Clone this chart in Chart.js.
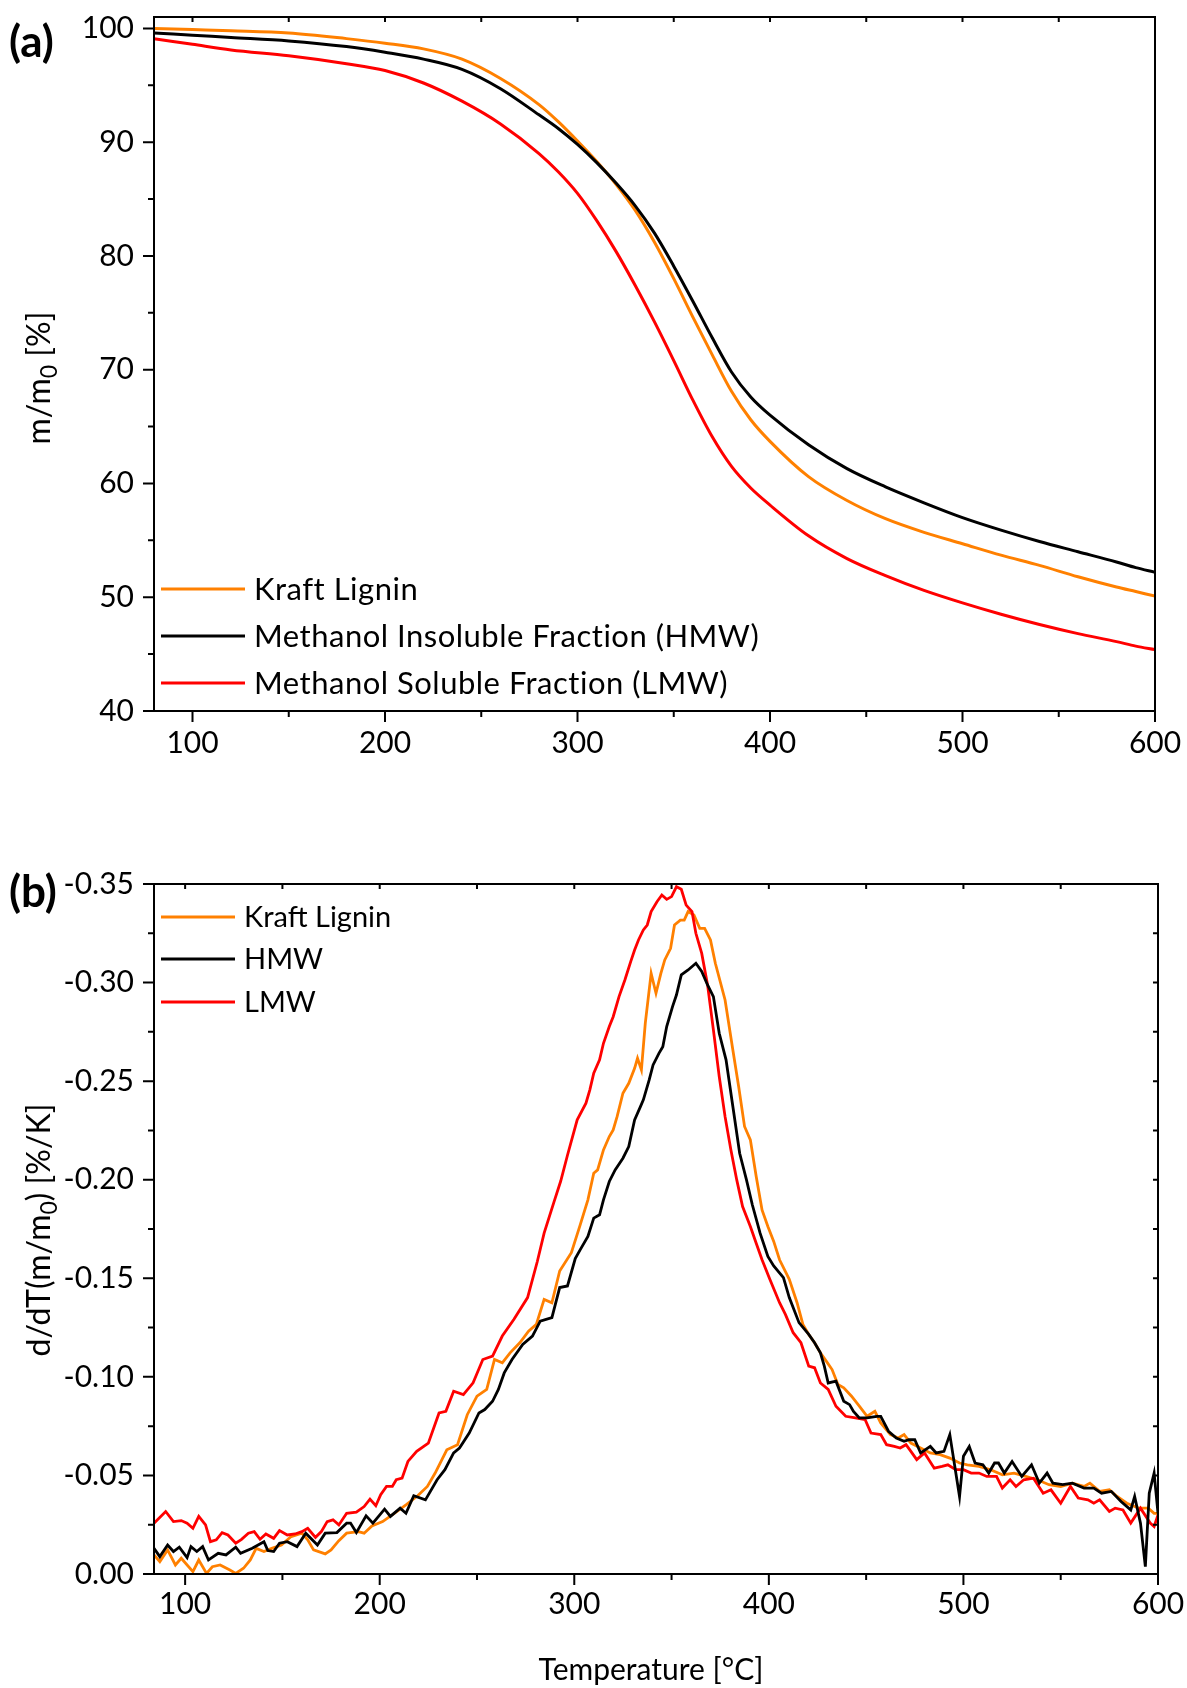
<!DOCTYPE html>
<html>
<head>
  <title>TGA / DTG of lignin fractions</title>
  <meta charset="UTF-8" />
  <script src="https://cdn.jsdelivr.net/npm/chart.js"></script>
  <style>
    body {
      margin: 0;
      background: #fff;
      width: 1187px;
      height: 1688px;
      overflow: hidden;
    }
    canvas {
      display: block;
    }
  </style>
</head>
<body>
  <!-- (a) mass loss -->
  <canvas id="tgaChart" width="1187" height="760"></canvas>
  <!-- (b) derivative -->
  <canvas id="dtgChart" width="1187" height="928"></canvas>

  <script>
// ---- data (a): m/m0 [%] vs temperature [°C]
const tgaTemp = [80, 100, 120, 150, 180, 200, 220, 240, 260, 280, 290, 300, 310, 320, 330, 340, 350, 360, 370, 380, 390, 400, 420, 440, 460, 480, 500, 520, 540, 560, 580, 590, 600];
const tgaKraft = [100.0, 99.9, 99.8, 99.6, 99.1, 98.7, 98.2, 97.3, 95.6, 93.3, 91.8, 90.1, 88.3, 86.3, 84.0, 81.2, 78.0, 74.6, 71.3, 68.1, 65.6, 63.7, 60.6, 58.5, 56.9, 55.7, 54.7, 53.7, 52.8, 51.8, 50.9, 50.5, 50.1];
const tgaHMW = [99.6, 99.4, 99.2, 98.9, 98.4, 97.9, 97.3, 96.4, 94.7, 92.4, 91.2, 89.8, 88.2, 86.4, 84.4, 82.0, 79.1, 76.0, 72.8, 69.8, 67.6, 66.0, 63.4, 61.3, 59.7, 58.3, 57.0, 55.9, 54.9, 54.0, 53.1, 52.6, 52.2];
const tgaLMW = [99.1, 98.6, 98.1, 97.6, 96.9, 96.3, 95.2, 93.6, 91.6, 89.0, 87.4, 85.5, 83.1, 80.4, 77.4, 74.2, 70.8, 67.3, 64.1, 61.5, 59.6, 58.1, 55.4, 53.4, 51.9, 50.6, 49.5, 48.5, 47.6, 46.8, 46.1, 45.7, 45.4];

// ---- data (b): d/dT(m/m0) [%/K]
const kraftTemp = [84, 87, 91, 95, 98, 104, 107, 111, 114, 118, 123, 126, 130, 133.5, 136.5, 140.5, 144.5, 149.5, 154.5, 160, 163, 166, 172, 175, 179, 183, 189, 192, 196, 201.5, 207.5, 213.5, 219.5, 224.5, 228.5, 234.5, 240, 245, 250, 255, 259, 263, 267, 272, 276.5, 280.5, 284.5, 288.5, 292.5, 298.5, 303, 307, 310, 312, 315, 318, 320, 322, 325, 328, 331, 332.5, 334.5, 336.5, 339.5, 342, 344.5, 346.5, 349.5, 351.5, 354.5, 356.5, 358.5, 361.5, 364.5, 367, 370, 372.5, 377.5, 381.5, 384.5, 387.5, 390.5, 393.5, 396.5, 399.5, 402.5, 405.5, 410.5, 414.5, 417.5, 420.5, 423.5, 426.5, 429.5, 432.5, 435.5, 438.5, 442.5, 446.5, 450.5, 454.5, 457.5, 462.5, 466.5, 469.5, 473, 478, 483, 488, 493, 498, 502, 508, 514, 520, 526, 532, 538, 544, 550, 556, 562, 565, 570, 575, 579, 584, 590, 595, 598, 600];
const kraftRate = [-0.0097, -0.0063, -0.0122, -0.0046, -0.008, -0.0012, -0.0071, -0.0003, -0.0037, -0.0046, -0.002, -0.0003, -0.0029, -0.0071, -0.013, -0.0114, -0.013, -0.0147, -0.019, -0.0207, -0.0173, -0.0122, -0.0102, -0.0122, -0.0169, -0.0207, -0.0215, -0.0207, -0.0244, -0.0266, -0.0308, -0.0351, -0.0397, -0.0444, -0.0512, -0.063, -0.0656, -0.0808, -0.0902, -0.0936, -0.1088, -0.1071, -0.1122, -0.1173, -0.1232, -0.1266, -0.1393, -0.1376, -0.1537, -0.163, -0.177, -0.1898, -0.2033, -0.205, -0.2151, -0.2219, -0.2253, -0.232, -0.2439, -0.2489, -0.2565, -0.2616, -0.2557, -0.2794, -0.3047, -0.2946, -0.3047, -0.3115, -0.3174, -0.3292, -0.3317, -0.3317, -0.336, -0.3343, -0.3275, -0.3275, -0.3216, -0.3098, -0.2912, -0.2658, -0.2472, -0.227, -0.2202, -0.2016, -0.1847, -0.1763, -0.1687, -0.1594, -0.1495, -0.1376, -0.1266, -0.1215, -0.1173, -0.1122, -0.108, -0.1037, -0.0961, -0.0944, -0.0902, -0.0851, -0.08, -0.0825, -0.0766, -0.0707, -0.069, -0.0707, -0.0664, -0.0639, -0.0614, -0.0605, -0.0588, -0.0563, -0.0554, -0.0546, -0.0529, -0.0503, -0.0512, -0.0495, -0.0478, -0.0453, -0.0444, -0.0461, -0.0444, -0.0461, -0.0419, -0.0427, -0.0393, -0.0359, -0.0334, -0.0334, -0.0308, -0.0308];

const hmwTemp = [84, 87, 91, 94, 97, 101, 103, 106, 109, 112, 117, 121, 126, 128.5, 134.5, 140.5, 142.5, 145.5, 148.5, 152.5, 157.5, 162, 168, 172, 178, 183, 185, 188, 193, 196.5, 202.5, 205.5, 210.5, 213.5, 217.5, 223.5, 229.5, 233.5, 238, 241, 246, 251, 254, 258, 261, 264, 268, 273.5, 278.5, 282.5, 288.5, 292.5, 296.5, 300.5, 303, 307, 310, 313, 315, 318, 321, 325, 328, 331, 334, 335.5, 338.5, 340.5, 343.5, 345.5, 347.5, 350.5, 352.5, 355, 358.5, 362.5, 365.5, 368.5, 371.5, 374.5, 378, 381.5, 385, 388.5, 391.5, 395.5, 399.5, 402.5, 407.5, 410.5, 415.5, 420.5, 423.5, 426.5, 428.5, 430.5, 434.5, 438.5, 441.5, 443.5, 446.5, 450.5, 455.5, 457.5, 461.5, 465.5, 469.5, 472, 475, 478, 483, 486, 490, 493, 498, 500, 503, 506, 510, 513, 516, 518, 521, 525, 530, 535, 539, 543, 546, 551, 556, 562, 567, 571, 576, 581, 586, 588, 591, 593.5, 595.5, 598, 600];
const hmwRate = [-0.0131, -0.0088, -0.0147, -0.0114, -0.0136, -0.0083, -0.0139, -0.0114, -0.0139, -0.0071, -0.0105, -0.0097, -0.0136, -0.0105, -0.0131, -0.0164, -0.0119, -0.0114, -0.0156, -0.0164, -0.0139, -0.0207, -0.0147, -0.0207, -0.021, -0.0258, -0.0258, -0.021, -0.0295, -0.0258, -0.0329, -0.0292, -0.0334, -0.0308, -0.0397, -0.0376, -0.0478, -0.0529, -0.0614, -0.0639, -0.0715, -0.0817, -0.0834, -0.0876, -0.0936, -0.102, -0.1088, -0.1164, -0.1207, -0.1283, -0.13, -0.1453, -0.1461, -0.16, -0.1644, -0.1712, -0.1805, -0.1822, -0.1898, -0.1991, -0.205, -0.2109, -0.2168, -0.2303, -0.2371, -0.2405, -0.2506, -0.2582, -0.2641, -0.2675, -0.2777, -0.2878, -0.2937, -0.3039, -0.3064, -0.3098, -0.3056, -0.2988, -0.2929, -0.2743, -0.2608, -0.2371, -0.2134, -0.1999, -0.1873, -0.1729, -0.1611, -0.1563, -0.1503, -0.1402, -0.1275, -0.1215, -0.1173, -0.1122, -0.1054, -0.0969, -0.0978, -0.0876, -0.0859, -0.0825, -0.0792, -0.0792, -0.08, -0.08, -0.0724, -0.069, -0.0673, -0.0681, -0.0681, -0.0614, -0.0647, -0.0614, -0.0622, -0.0707, -0.0393, -0.0597, -0.0647, -0.0563, -0.0554, -0.0512, -0.0563, -0.0563, -0.0512, -0.0571, -0.0495, -0.0554, -0.0461, -0.0512, -0.0461, -0.0453, -0.0461, -0.0436, -0.0436, -0.041, -0.0419, -0.0368, -0.0325, -0.0393, -0.0258, -0.0037, -0.041, -0.0512, -0.0308];

const lmwTemp = [84, 90, 94, 98, 101, 104, 107, 110.5, 113, 116, 119, 122, 126, 129, 132.5, 135.5, 138.5, 141.5, 145.5, 148.5, 152.5, 156.5, 160, 163, 167, 170, 173, 176, 179, 183, 188, 192, 195, 198, 200.5, 203.5, 206.5, 208.5, 211.5, 214.5, 219, 225, 230.5, 234, 238, 243, 248, 253, 258, 263, 269, 276, 281, 284.5, 289.5, 293, 296.5, 301.5, 306, 308, 310, 313, 315, 318, 320, 323, 326, 329, 331, 333, 335.5, 337.5, 339.5, 342.5, 345, 347.5, 350, 352.5, 355, 357.5, 360.5, 362.5, 365.5, 368.5, 371.5, 374.5, 377.5, 380.5, 383.5, 386.5, 390.5, 393.5, 396.5, 400.5, 405.5, 408.5, 412.5, 416.5, 420.5, 423.5, 426.5, 430.5, 434.5, 439.5, 444.5, 449.5, 452.5, 457.5, 460.5, 464.5, 467.5, 470.5, 473, 476, 480, 485, 489, 492, 496, 500, 504, 508, 512, 517, 520, 524, 527, 531, 536, 541, 545, 550, 555, 559, 564, 567, 570, 575, 578, 582, 586, 591, 596, 598, 600];
const lmwRate = [-0.0258, -0.0317, -0.0266, -0.0271, -0.0258, -0.0232, -0.0292, -0.0249, -0.0164, -0.0173, -0.021, -0.0198, -0.0156, -0.0176, -0.0207, -0.0215, -0.0176, -0.0203, -0.0181, -0.022, -0.0198, -0.0203, -0.0215, -0.0232, -0.0186, -0.0215, -0.0266, -0.0275, -0.0249, -0.0308, -0.0314, -0.0342, -0.038, -0.0346, -0.0402, -0.0444, -0.0444, -0.0478, -0.0486, -0.0571, -0.0622, -0.0664, -0.0817, -0.0825, -0.0927, -0.091, -0.097, -0.1088, -0.1105, -0.1207, -0.1292, -0.1402, -0.1585, -0.1729, -0.1885, -0.1992, -0.2124, -0.2304, -0.2388, -0.2456, -0.254, -0.2608, -0.2692, -0.2777, -0.2827, -0.2929, -0.3013, -0.3106, -0.3165, -0.3216, -0.3267, -0.3292, -0.336, -0.341, -0.3444, -0.3422, -0.3436, -0.3486, -0.3473, -0.3393, -0.336, -0.325, -0.3148, -0.2988, -0.276, -0.2523, -0.232, -0.2151, -0.1999, -0.1864, -0.1763, -0.1678, -0.1594, -0.1495, -0.1376, -0.1317, -0.1224, -0.1173, -0.1054, -0.1046, -0.0969, -0.0936, -0.0851, -0.08, -0.0792, -0.0783, -0.0715, -0.0707, -0.0656, -0.0647, -0.0639, -0.0656, -0.0622, -0.058, -0.0614, -0.0537, -0.0546, -0.0554, -0.0529, -0.0529, -0.0512, -0.0512, -0.0495, -0.0495, -0.0436, -0.0478, -0.0444, -0.0478, -0.0486, -0.041, -0.0427, -0.0359, -0.0444, -0.0385, -0.0376, -0.0359, -0.0376, -0.0317, -0.0334, -0.0325, -0.0258, -0.0334, -0.0258, -0.0241, -0.03];

// ---- ticks
const tempTicks = [100, 200, 300, 400, 500, 600];
const massTicks = [40, 50, 60, 70, 80, 90, 100];
const rateTicks = [0, -0.05, -0.10, -0.15, -0.20, -0.25, -0.30, -0.35];

const FONT = 'Lato, "Open Sans", sans-serif';
const ORANGE = '#FF8000', BLACK = '#000000', RED = '#FF0000';

const pts = (xs, ys) => xs.map((x, i) => ({ x, y: ys[i] }));

// box round the plot, outward major/minor ticks left+bottom, short inward ticks top/right
const framePlugin = {
  id: 'frame',
  afterDatasetsDraw(chart, args, o) {
    const { ctx, chartArea: a, scales: { x, y } } = chart;
    const xStep = o.xTicks[1] - o.xTicks[0];
    const yStep = o.yTicks[1] - o.yTicks[0];
    const xMinor = [o.xTicks[0] - xStep / 2, ...o.xTicks.map(v => v + xStep / 2)].filter(v => v >= x.min && v <= x.max);
    const yMinor = [o.yTicks[0] - yStep / 2, ...o.yTicks.map(v => v + yStep / 2)].filter(v => v >= Math.min(y.min, y.max) && v <= Math.max(y.min, y.max));
    ctx.save();
    ctx.strokeStyle = '#000';
    ctx.lineWidth = 2;
    ctx.strokeRect(a.left, a.top, a.right - a.left, a.bottom - a.top);
    ctx.beginPath();
    o.xTicks.forEach(v => {
      const p = x.getPixelForValue(v);
      ctx.moveTo(p, a.bottom); ctx.lineTo(p, a.bottom + 11);
      if (o.top) { ctx.moveTo(p, a.top); ctx.lineTo(p, a.top + 5); }
    });
    xMinor.forEach(v => {
      const p = x.getPixelForValue(v);
      ctx.moveTo(p, a.bottom); ctx.lineTo(p, a.bottom + 6);
      if (o.top) { ctx.moveTo(p, a.top); ctx.lineTo(p, a.top + 5); }
    });
    o.yTicks.forEach(v => {
      const p = y.getPixelForValue(v);
      ctx.moveTo(a.left, p); ctx.lineTo(a.left - 11, p);
      if (o.right) { ctx.moveTo(a.right, p); ctx.lineTo(a.right - 5, p); }
    });
    yMinor.forEach(v => {
      const p = y.getPixelForValue(v);
      ctx.moveTo(a.left, p); ctx.lineTo(a.left - 6, p);
      if (o.right) { ctx.moveTo(a.right, p); ctx.lineTo(a.right - 5, p); }
    });
    ctx.stroke();
    ctx.restore();
  }
};

// legend drawn inside the plot, one row per dataset
const insideLegend = {
  id: 'insideLegend',
  afterDatasetsDraw(chart, args, o) {
    const { ctx } = chart;
    ctx.save();
    ctx.font = o.size + 'px ' + FONT;
    ctx.letterSpacing = o.spacing || '0px';
    ctx.textBaseline = 'middle';
    ctx.fillStyle = '#000';
    chart.data.datasets.forEach((ds, i) => {
      const yy = o.rows[i];
      ctx.strokeStyle = ds.borderColor;
      ctx.lineWidth = 3;
      ctx.beginPath();
      ctx.moveTo(o.x0, yy); ctx.lineTo(o.x1, yy);
      ctx.stroke();
      ctx.fillText(ds.label, o.textX, yy + 1);
    });
    ctx.restore();
  }
};

// text with a subscript part, optionally rotated
function drawRich(ctx, parts, cx, cy, size, rotate) {
  ctx.save();
  ctx.translate(cx, cy);
  if (rotate) ctx.rotate(-Math.PI / 2);
  ctx.textBaseline = 'middle';
  ctx.textAlign = 'left';
  ctx.fillStyle = '#000';
  const fontOf = p => (p.sub ? Math.round(size * 0.72) : size) + 'px ' + FONT;
  let total = 0;
  parts.forEach(p => { ctx.font = fontOf(p); total += ctx.measureText(p.t).width; });
  let pos = -total / 2;
  parts.forEach(p => {
    ctx.font = fontOf(p);
    ctx.fillText(p.t, pos, p.sub ? size * 0.3 : 0);
    pos += ctx.measureText(p.t).width;
  });
  ctx.restore();
}

const labelsPlugin = {
  id: 'labels',
  afterDraw(chart, args, o) {
    const { ctx } = chart;
    ctx.save();
    ctx.font = 'bold 44px ' + FONT;
    ctx.textBaseline = 'middle';
    ctx.fillStyle = '#000';
    ctx.fillText(o.panel, 9, o.panelY);
    ctx.restore();
    drawRich(ctx, o.yTitle, o.yTitleX, o.yTitleY, 32, true);
    if (o.xTitle) drawRich(ctx, o.xTitle, o.xTitleX, o.xTitleY, 30, false);
  }
};

function axisX(min, ticks, pad, height) {
  return {
    type: 'linear',
    min: min,
    max: 600,
    afterBuildTicks: s => { s.ticks = ticks.map(v => ({ value: v })); },
    afterFit: s => { s.height = height; s.paddingLeft = 0; s.paddingRight = 0; },
    grid: { display: false, drawTicks: false },
    border: { display: false },
    ticks: { color: '#000', font: { family: FONT, size: 30 }, padding: pad, maxRotation: 0 }
  };
}

function axisY(min, max, ticks, extra) {
  return Object.assign({
    type: 'linear',
    min: min,
    max: max,
    afterBuildTicks: s => { s.ticks = ticks.map(v => ({ value: v })); },
    afterFit: s => { s.width = 154; s.paddingTop = 0; s.paddingBottom = 0; },
    grid: { display: false, drawTicks: false },
    border: { display: false },
    ticks: { color: '#000', font: { family: FONT, size: 30 }, padding: 20 }
  }, extra);
}

// ---- (a)
new Chart(document.getElementById('tgaChart').getContext('2d'), {
  type: 'line',
  data: {
    datasets: [
      { label: 'Kraft Lignin', data: pts(tgaTemp, tgaKraft), borderColor: ORANGE, order: 2 },
      { label: 'Methanol Insoluble Fraction (HMW)', data: pts(tgaTemp, tgaHMW), borderColor: BLACK, order: 0 },
      { label: 'Methanol Soluble Fraction (LMW)', data: pts(tgaTemp, tgaLMW), borderColor: RED, order: 1 }
    ]
  },
  options: {
    responsive: false,
    animation: false,
    devicePixelRatio: 1,
    layout: { padding: { top: 17, right: 32, left: 0, bottom: 0 } },
    elements: {
      point: { radius: 0 },
      line: { borderWidth: 3, cubicInterpolationMode: 'monotone', fill: false }
    },
    scales: {
      x: axisX(80, tempTicks, 14, 49),
      y: axisY(40, 101, massTicks, {})
    },
    plugins: {
      legend: { display: false },
      tooltip: { enabled: false },
      frame: { xTicks: tempTicks, yTicks: massTicks, top: true, right: false },
      insideLegend: { x0: 161, x1: 245, textX: 254, rows: [589, 636, 683], size: 31, spacing: '0.5px' },
      labels: {
        panel: '(a)', panelY: 43,
        yTitle: [{ t: 'm/m' }, { t: '0', sub: true }, { t: ' [%]' }],
        yTitleX: 40, yTitleY: 378
      }
    }
  },
  plugins: [framePlugin, insideLegend, labelsPlugin]
});

// ---- (b)
new Chart(document.getElementById('dtgChart').getContext('2d'), {
  type: 'line',
  data: {
    datasets: [
      { label: 'Kraft Lignin', data: pts(kraftTemp, kraftRate), borderColor: ORANGE, order: 2 },
      { label: 'HMW', data: pts(hmwTemp, hmwRate), borderColor: BLACK, order: 0 },
      { label: 'LMW', data: pts(lmwTemp, lmwRate), borderColor: RED, order: 1 }
    ]
  },
  options: {
    responsive: false,
    animation: false,
    devicePixelRatio: 1,
    layout: { padding: { top: 124, right: 29, left: 0, bottom: 0 } },
    elements: {
      point: { radius: 0 },
      line: { borderWidth: 2.8, tension: 0, fill: false }
    },
    scales: {
      x: axisX(84, tempTicks, 12, 114),
      y: axisY(-0.35, 0, rateTicks, {
        reverse: true,
        ticks: {
          color: '#000',
          font: { family: FONT, size: 30 },
          padding: 20,
          callback: v => (Math.abs(v) < 1e-9 ? 0 : v).toFixed(2)
        }
      })
    },
    plugins: {
      legend: { display: false },
      tooltip: { enabled: false },
      frame: { xTicks: tempTicks, yTicks: rateTicks, top: true, right: true },
      insideLegend: { x0: 161, x1: 235, textX: 244, rows: [157, 199, 242], size: 29 },
      labels: {
        panel: '(b)', panelY: 133,
        yTitle: [{ t: 'd/dT(m/m' }, { t: '0', sub: true }, { t: ') [%/K]' }],
        yTitleX: 40, yTitleY: 470,
        xTitle: [{ t: 'Temperature [°C]' }],
        xTitleX: 651, xTitleY: 910
      }
    }
  },
  plugins: [framePlugin, insideLegend, labelsPlugin]
});
  </script>
</body>
</html>
